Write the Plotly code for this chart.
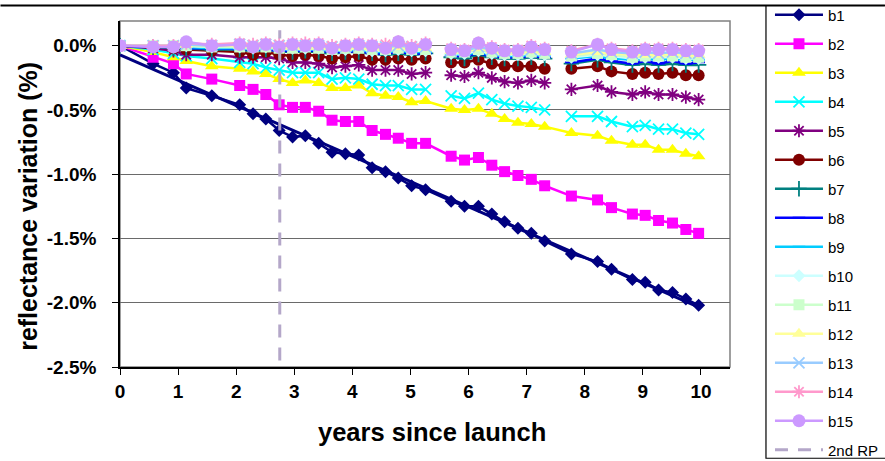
import plotly.graph_objects as go
import numpy as np

# ---------------- data ----------------
years = [0, 0.57, 0.92, 1.14, 1.58, 2.06, 2.29, 2.51, 2.74, 2.97, 3.19, 3.42, 3.65, 3.88, 4.11,
         4.34, 4.57, 4.79, 5.02, 5.26, 5.48, 5.70, 5.93, 6.17, 6.40, 6.62, 6.85, 7.08, 7.31, 7.54,
         7.77, 8.22, 8.46, 8.82, 9.04, 9.27, 9.51, 9.74, 9.96]
N = None
b1 = [0, -0.14, -0.21, -0.33, -0.39, -0.46, -0.53, -0.57, -0.66, -0.71, -0.70, -0.76, -0.83, -0.84, -0.85,
      -0.95, -0.98, -1.03, -1.09, -1.12, N, -1.21, -1.25, -1.25, -1.31, -1.37, -1.42, -1.46, -1.52, N,
      -1.62, -1.68, -1.74, -1.82, -1.84, -1.90, -1.92, -1.97, -2.02]
b2 = [0, -0.09, -0.14, -0.22, -0.26, -0.31, -0.34, -0.38, -0.46, -0.48, -0.48, -0.51, -0.58, -0.59, -0.59,
      -0.66, -0.69, -0.72, -0.76, -0.76, N, -0.86, -0.89, -0.87, -0.93, -0.98, -1.01, -1.04, -1.09, N,
      -1.17, -1.20, -1.26, -1.31, -1.32, -1.36, -1.38, -1.43, -1.46]
b3 = [0, -0.05, -0.09, -0.12, -0.16, -0.18, -0.20, -0.22, -0.26, -0.29, -0.27, -0.29, -0.33, -0.33, -0.31,
      -0.37, -0.39, -0.40, -0.44, -0.43, N, -0.49, -0.50, -0.49, -0.53, -0.57, -0.60, -0.61, -0.63, N,
      -0.68, -0.70, -0.74, -0.77, -0.77, -0.81, -0.81, -0.84, -0.86]
b4 = [0, -0.03, -0.06, -0.08, -0.10, -0.13, -0.14, -0.17, -0.19, -0.21, -0.21, -0.21, -0.26, -0.25, -0.26,
      -0.30, -0.31, -0.31, -0.34, -0.34, N, -0.39, -0.41, -0.37, -0.42, -0.45, -0.47, -0.48, -0.50, N,
      -0.55, -0.55, -0.59, -0.63, -0.62, -0.65, -0.65, -0.68, -0.69]
b5 = [0, -0.02, -0.04, -0.07, -0.07, -0.09, -0.09, -0.09, -0.10, -0.13, -0.13, -0.14, -0.17, -0.16, -0.15,
      -0.19, -0.19, -0.19, -0.22, -0.21, N, -0.23, -0.24, -0.21, -0.25, -0.28, -0.29, -0.27, -0.29, N,
      -0.34, -0.31, -0.36, -0.38, -0.36, -0.38, -0.38, -0.40, -0.42]
b6 = [0, -0.01, -0.02, -0.03, -0.04, -0.05, -0.07, -0.05, -0.07, -0.08, -0.07, -0.08, -0.10, -0.09, -0.08,
      -0.11, -0.11, -0.10, -0.11, -0.10, N, -0.13, -0.13, -0.11, -0.14, -0.16, -0.16, -0.16, -0.18, N,
      -0.18, -0.16, -0.20, -0.22, -0.21, -0.22, -0.21, -0.23, -0.23]
b7 = [0, -0.01, -0.02, -0.02, -0.03, -0.03, -0.04, -0.03, -0.04, -0.05, -0.04, -0.05, -0.06, -0.05, -0.05,
      -0.06, -0.07, -0.06, -0.07, -0.06, N, -0.09, -0.10, -0.07, -0.09, -0.10, -0.10, -0.09, -0.10, N,
      -0.14, -0.11, -0.13, -0.15, -0.14, -0.15, -0.14, -0.15, -0.15]
b8 = [0, -0.01, -0.01, -0.02, -0.02, -0.03, -0.03, -0.03, -0.04, -0.04, -0.04, -0.04, -0.05, -0.05, -0.04,
      -0.06, -0.06, -0.05, -0.06, -0.06, N, -0.08, -0.08, -0.06, -0.08, -0.09, -0.09, -0.08, -0.09, N,
      -0.13, -0.10, -0.12, -0.14, -0.12, -0.14, -0.12, -0.14, -0.13]
b9 = [0, 0.00, -0.01, -0.01, -0.02, -0.02, -0.03, -0.02, -0.03, -0.03, -0.03, -0.03, -0.04, -0.04, -0.03,
      -0.05, -0.05, -0.04, -0.05, -0.05, N, -0.07, -0.07, -0.05, -0.07, -0.08, -0.08, -0.07, -0.08, N,
      -0.10, -0.08, -0.10, -0.11, -0.10, -0.11, -0.10, -0.11, -0.11]
b10 = [0, 0.00, -0.01, 0.00, -0.01, -0.01, -0.02, -0.01, -0.02, -0.02, -0.02, -0.02, -0.03, -0.03, -0.02,
       -0.04, -0.04, -0.03, -0.04, -0.04, N, -0.06, -0.06, -0.04, -0.06, -0.07, -0.07, -0.06, -0.07, N,
       -0.09, -0.07, -0.08, -0.10, -0.09, -0.09, -0.09, -0.10, -0.10]
b11 = [0, 0.00, 0.00, 0.00, -0.01, -0.01, -0.01, -0.01, -0.02, -0.02, -0.01, -0.02, -0.03, -0.02, -0.02,
       -0.03, -0.03, -0.02, -0.03, -0.03, N, -0.05, -0.05, -0.03, -0.05, -0.06, -0.06, -0.05, -0.06, N,
       -0.08, -0.06, -0.07, -0.09, -0.08, -0.08, -0.08, -0.09, -0.09]
b12 = [0, 0.00, 0.00, 0.01, 0.00, 0.00, -0.01, 0.00, -0.01, -0.01, -0.01, -0.01, -0.02, -0.02, -0.01,
       -0.02, -0.02, -0.01, -0.02, -0.02, N, -0.04, -0.04, -0.02, -0.04, -0.05, -0.05, -0.04, -0.05, N,
       -0.07, -0.05, -0.06, -0.07, -0.07, -0.07, -0.06, -0.07, -0.07]
b13 = [0, 0.00, 0.00, 0.01, 0.00, 0.01, 0.00, 0.01, 0.00, 0.00, 0.00, 0.00, -0.01, -0.01, 0.00,
       -0.01, -0.01, 0.00, -0.01, -0.01, N, -0.04, -0.04, -0.01, -0.03, -0.04, -0.04, -0.03, -0.04, N,
       -0.06, -0.03, -0.05, -0.06, -0.05, -0.06, -0.05, -0.06, -0.06]
b14 = [0, 0.00, 0.00, 0.02, 0.01, 0.02, 0.01, 0.02, 0.01, 0.02, 0.02, 0.02, 0.00, 0.01, 0.02,
       0.01, 0.01, 0.03, 0.00, 0.02, N, -0.02, -0.03, 0.02, -0.01, -0.03, -0.03, 0.00, -0.02, N,
       -0.04, 0.01, -0.02, -0.04, -0.02, -0.02, -0.02, -0.03, -0.03]
b15 = [0, -0.01, -0.01, 0.03, 0.00, 0.01, -0.01, 0.01, -0.01, 0.01, 0.00, 0.01, -0.02, 0.00, 0.01,
       0.00, -0.02, 0.03, -0.02, 0.01, N, -0.03, -0.04, 0.02, -0.02, -0.04, -0.04, -0.01, -0.03, N,
       -0.05, 0.01, -0.03, -0.05, -0.03, -0.03, -0.03, -0.04, -0.04]

band_names = ["b1", "b2", "b3", "b4", "b5", "b6", "b7", "b8", "b9", "b10", "b11", "b12", "b13", "b14", "b15"]
band_values = [b1, b2, b3, b4, b5, b6, b7, b8, b9, b10, b11, b12, b13, b14, b15]

rp_x = [2.75, 2.75]
rp_y = [-2.45, 0.12]

y_tickvals = [0.0, -0.5, -1.0, -1.5, -2.0, -2.5]
y_ticktext = ["0.0%", "-0.5%", "-1.0%", "-1.5%", "-2.0%", "-2.5%"]
x_tickvals = list(range(0, 11))
x_title = "years since launch"
y_title = "reflectance variation (%)"

# ---------------- styles ----------------
colors = ["#000080", "#FF00FF", "#FFFF00", "#00FFFF", "#800080", "#800000", "#008080", "#0000FF",
          "#00CCFF", "#CCFFFF", "#CCFFCC", "#FFFF99", "#99CCFF", "#FF99CC", "#CC99FF"]
symbols = ["diamond", "square", "triangle-up", "x-thin-open", "asterisk-open", "circle",
           "cross-thin-open", "line-ew-open", "line-ew-open", "diamond", "square", "triangle-up",
           "x-thin-open", "asterisk-open", "circle"]
sizes = [10, 11, 12, 11, 11, 12, 11, 9, 9, 10, 11, 12, 11, 11, 13]

FONT = "Liberation Sans, Arial, sans-serif"
W, H = 885, 461
L, R, T, B = 119.6, 155, 20.5, 94.3
pw = W - L - R
ph = H - T - B


def px_x(px):
    return (px - L) / pw


def px_y(py):
    return (H - B - py) / ph


fig = go.Figure()

for i, (name, vals) in enumerate(zip(band_names, band_values)):
    fig.add_trace(go.Scatter(
        x=years, y=vals, name=name, mode="lines+markers",
        connectgaps=(i < 3),
        line=dict(color=colors[i], width=2.5),
        marker=dict(symbol=symbols[i], size=sizes[i], color=colors[i],
                    line=dict(color=colors[i], width=1.8 if "open" in symbols[i] else 0)),
        legendgroup=name,
    ))
    if i == 0:
        # linear trend line of b1
        xb = np.array([x for x, v in zip(years, vals) if v is not None])
        yb = np.array([v for v in vals if v is not None])
        k, c = np.polyfit(xb, yb, 1)
        xt = [xb[0], xb[-1]]
        fig.add_trace(go.Scatter(x=xt, y=[c + k * v for v in xt], mode="lines",
                                 line=dict(color="#000080", width=3), showlegend=False,
                                 hoverinfo="skip"))

fig.add_trace(go.Scatter(x=rp_x, y=rp_y, name="2nd RP", mode="lines",
                         line=dict(color="#B4A7C9", width=3, dash="13px,10px"),
                         legendgroup="rp"))

shapes = [
    # plot-area border (gray top/right)
    dict(type="rect", xref="paper", yref="paper", x0=0, x1=1, y0=0, y1=1,
         line=dict(color="#808080", width=1.5), layer="below"),
    # outer top rule
    dict(type="line", xref="paper", yref="paper", x0=px_x(0), x1=px_x(885), y0=px_y(5), y1=px_y(5),
         line=dict(color="#000000", width=2)),
    # legend box
    dict(type="rect", xref="paper", yref="paper", x0=px_x(766), x1=px_x(890), y0=px_y(458), y1=px_y(5),
         line=dict(color="#000000", width=1.2)),
]

annotations = [
    dict(text=x_title, xref="paper", yref="paper", x=px_x(432), y=px_y(432),
         xanchor="center", yanchor="middle", showarrow=False,
         font=dict(family=FONT, size=25.5, weight="bold", color="black")),
    dict(text=y_title, xref="paper", yref="paper", x=px_x(28), y=px_y(206),
         xanchor="center", yanchor="middle", showarrow=False, textangle=-90,
         font=dict(family=FONT, size=25, weight="bold", color="black")),
]

fig.update_layout(
    width=W, height=H,
    margin=dict(l=L, r=R, t=T, b=B, pad=0, autoexpand=False),
    paper_bgcolor="white", plot_bgcolor="white",
    font=dict(family=FONT, color="black"),
    showlegend=True,
    legend=dict(x=px_x(770), y=px_y(-2), xanchor="left", yanchor="top",
                font=dict(family=FONT, size=15), traceorder="grouped",
                tracegroupgap=6.5, itemwidth=48, bgcolor="rgba(0,0,0,0)",
                borderwidth=0, maxheight=600),
    shapes=shapes,
    annotations=annotations,
    xaxis=dict(range=[0, 10.5], tickvals=x_tickvals, ticks="outside", ticklen=6,
               tickcolor="black", showline=True, linecolor="black", linewidth=1.5,
               showgrid=False, zeroline=False,
               tickfont=dict(family=FONT, size=19, weight="bold"),
               ticklabelstandoff=0),
    yaxis=dict(range=[-2.5, 0.192], tickvals=y_tickvals, ticktext=y_ticktext,
               ticks="outside", ticklen=6, tickcolor="black",
               showline=True, linecolor="black", linewidth=1.5,
               showgrid=True, gridcolor="#6a6a6a", gridwidth=1, zeroline=False,
               tickfont=dict(family=FONT, size=19, weight="bold"),
               ticklabelstandoff=12),
)

fig.write_html("out.html")
